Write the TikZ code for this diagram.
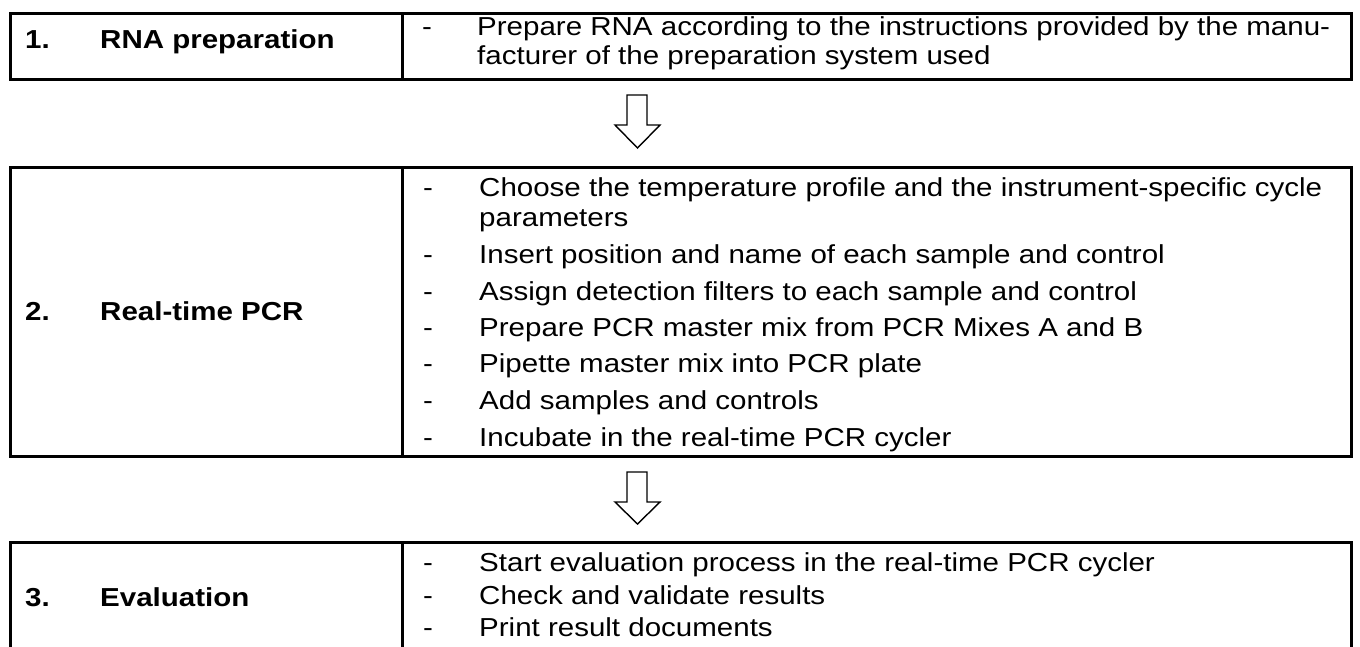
\documentclass[tikz,border=0pt]{standalone}
\usepackage{fontspec}
\setmainfont[FakeStretch=1.135]{Liberation Sans}
\begin{document}
\begin{tikzpicture}[x=1pt,y=-1pt,
  box/.style={draw=black,line width=3pt,inner sep=0pt,anchor=north west},
  txt/.style={anchor=base west,inner sep=0pt,font=\fontsize{26}{29}\selectfont},
  lab/.style={anchor=base west,inner sep=0pt,font=\fontsize{26}{29}\selectfont\bfseries},
  blockarrow/.style={draw=black,line width=1.4pt,fill=white,line join=miter}]
\clip (0,0) rectangle (1360,646);
\fill[white] (0,0) rectangle (1360,646);
% boxes
\node[box,minimum width=1341pt,minimum height=66pt] (b1) at (9,12) {};
\node[box,minimum width=1341pt,minimum height=289pt] (b2) at (9,166) {};
\node[box,minimum width=1341pt,minimum height=140pt] (b3) at (9,541) {};
% dividers
\coordinate (d1t) at (402,12); \coordinate (d1b) at (402,78);
\coordinate (d2t) at (402,166); \coordinate (d2b) at (402,455);
\coordinate (d3t) at (402,541); \coordinate (d3b) at (402,681);
\draw[line width=3pt] (d1t) -- (d1b);
\draw[line width=3pt] (d2t) -- (d2b);
\draw[line width=3pt] (d3t) -- (d3b);
% labels
\node[lab] (l1n) at (25,48) {1.};
\node[lab] (l1) at (100,48) {RNA preparation};
\node[lab] (l2n) at (25,320) {2.};
\node[lab] (l2) at (100,320) {Real-time PCR};
\node[lab] (l3n) at (25,606) {3.};
\node[lab] (l3) at (100,606) {Evaluation};
% box 1 text
\node[txt] (a1d) at (422,35) {-};
\node[txt] (a1) at (477,35) {Prepare RNA according to the instructions provided by the manu-};
\node[txt] (a2) at (477,64) {facturer of the preparation system used};
% box 2 text
\node[txt] (c1d) at (423,196) {-};
\node[txt] (c1) at (479,196) {Choose the temperature profile and the instrument-specific cycle};
\node[txt] (c2) at (479,226) {parameters};
\node[txt] (c3d) at (423,263) {-};
\node[txt] (c3) at (479,263) {Insert position and name of each sample and control};
\node[txt] (c4d) at (423,300) {-};
\node[txt] (c4) at (479,300) {Assign detection filters to each sample and control};
\node[txt] (c5d) at (423,336) {-};
\node[txt] (c5) at (479,336) {Prepare PCR master mix from PCR Mixes A and B};
\node[txt] (c6d) at (423,372) {-};
\node[txt] (c6) at (479,372) {Pipette master mix into PCR plate};
\node[txt] (c7d) at (423,409) {-};
\node[txt] (c7) at (479,409) {Add samples and controls};
\node[txt] (c8d) at (423,446) {-};
\node[txt] (c8) at (479,446) {Incubate in the real-time PCR cycler};
% box 3 text
\node[txt] (e1d) at (423,571) {-};
\node[txt] (e1) at (479,571) {Start evaluation process in the real-time PCR cycler};
\node[txt] (e2d) at (423,604) {-};
\node[txt] (e2) at (479,604) {Check and validate results};
\node[txt] (e3d) at (423,636) {-};
\node[txt] (e3) at (479,636) {Print result documents};
% block arrows
\draw[blockarrow] (627,95) -- (647,95) -- (647,125) -- (660,125) -- (637.5,148) -- (615,125) -- (627,125) -- cycle;
\draw[blockarrow] (627,472) -- (647,472) -- (647,502) -- (660,502) -- (637.5,524) -- (615,502) -- (627,502) -- cycle;
\end{tikzpicture}
\end{document}
